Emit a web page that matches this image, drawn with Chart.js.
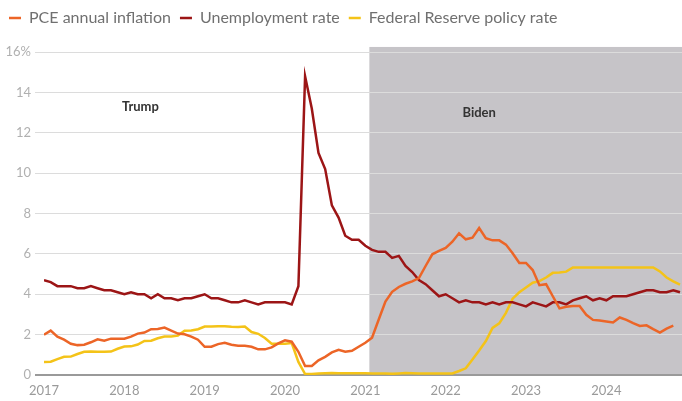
<!DOCTYPE html>
<html>
<head>
<meta charset="utf-8">
<script src="https://cdn.jsdelivr.net/npm/chart.js@4"></script>
<style>
  html, body { margin: 0; padding: 0; background: #ffffff; }
  #wrap { width: 682px; height: 401px; position: relative; }
</style>
</head>
<body>
<div id="wrap"><canvas id="chartRates"></canvas></div>
<script>
// Datos mensuales, ene 2017 - dic 2024 (indice 0 = ene 2017)
const yearLabels = ['2017', '2018', '2019', '2020', '2021', '2022', '2023', '2024'];
const yTickValues = [0, 2, 4, 6, 8, 10, 12, 14, 16];

const pceInflation = [
  2.0, 2.2, 1.9, 1.75, 1.55, 1.48, 1.5, 1.62, 1.77, 1.7, 1.8, 1.8,
  1.8, 1.9, 2.05, 2.1, 2.27, 2.28, 2.35, 2.2, 2.05, 2.02, 1.9, 1.75,
  1.4, 1.4, 1.53, 1.6, 1.5, 1.45, 1.45, 1.4, 1.27, 1.27, 1.37, 1.57,
  1.72, 1.65, 1.15, 0.45, 0.45, 0.73, 0.9, 1.12, 1.25, 1.15, 1.2, 1.4,
  1.6, 1.85, 2.75, 3.64, 4.12, 4.36, 4.52, 4.64, 4.8, 5.4, 5.98, 6.15,
  6.3, 6.6, 7.02, 6.72, 6.8, 7.28, 6.78, 6.67, 6.67, 6.46, 6.03, 5.55,
  5.55, 5.2, 4.45, 4.5, 3.9, 3.3, 3.38, 3.42, 3.42, 2.98, 2.73, 2.7,
  2.65, 2.6, 2.85, 2.73, 2.57, 2.43, 2.46, 2.27, 2.1, 2.3, 2.45
];

const unemploymentRate = [
  4.7, 4.6, 4.4, 4.4, 4.4, 4.3, 4.3, 4.4, 4.3, 4.2, 4.2, 4.1,
  4.0, 4.1, 4.0, 4.0, 3.8, 4.0, 3.8, 3.8, 3.7, 3.8, 3.8, 3.9,
  4.0, 3.8, 3.8, 3.7, 3.6, 3.6, 3.7, 3.6, 3.5, 3.6, 3.6, 3.6,
  3.6, 3.5, 4.4, 14.8, 13.2, 11.0, 10.2, 8.4, 7.8, 6.9, 6.7, 6.7,
  6.4, 6.2, 6.1, 6.1, 5.8, 5.9, 5.4, 5.1, 4.7, 4.5, 4.2, 3.9,
  4.0, 3.8, 3.6, 3.7, 3.6, 3.6, 3.5, 3.6, 3.5, 3.6, 3.6, 3.5,
  3.4, 3.6, 3.5, 3.4, 3.6, 3.6, 3.5, 3.7, 3.8, 3.9, 3.7, 3.8,
  3.7, 3.9, 3.9, 3.9, 4.0, 4.1, 4.2, 4.2, 4.1, 4.1, 4.2, 4.1
];

const fedFundsRate = [
  0.65, 0.66, 0.79, 0.90, 0.91, 1.04, 1.15, 1.16, 1.15, 1.15, 1.16, 1.30,
  1.41, 1.42, 1.51, 1.69, 1.70, 1.82, 1.91, 1.91, 1.95, 2.19, 2.20, 2.27,
  2.40, 2.40, 2.41, 2.42, 2.39, 2.38, 2.40, 2.13, 2.04, 1.83, 1.55, 1.55,
  1.55, 1.58, 0.65, 0.05, 0.05, 0.08, 0.09, 0.10, 0.09, 0.09, 0.09, 0.09,
  0.09, 0.08, 0.07, 0.07, 0.06, 0.08, 0.10, 0.09, 0.08, 0.08, 0.08, 0.08,
  0.08, 0.08, 0.20, 0.33, 0.77, 1.21, 1.68, 2.33, 2.56, 3.08, 3.78, 4.10,
  4.33, 4.57, 4.65, 4.83, 5.06, 5.08, 5.12, 5.33, 5.33, 5.33, 5.33, 5.33,
  5.33, 5.33, 5.33, 5.33, 5.33, 5.33, 5.33, 5.33, 5.13, 4.83, 4.64, 4.48
];

// Inicio del periodo Biden (20 ene 2021, en meses desde ene 2017)
const bidenStart = 48.6;
const eraLabels = [
  { text: 'Trump', x: 14.4, y: 13.3 },
  { text: 'Biden', x: 65, y: 13.0 }
];

const FONT = 'Lato, "Open Sans", sans-serif';

function toPoints(arr) {
  return arr.map((v, i) => ({ x: i, y: v }));
}

// Espacio extra bajo la leyenda
const legendSpacing = {
  id: 'legendSpacing',
  beforeInit(chart) {
    const originalFit = chart.legend.fit;
    chart.legend.fit = function fit() {
      originalFit.bind(chart.legend)();
      this.height += 16;
    };
  }
};

// Sombreado del periodo Biden + etiquetas
const eraPlugin = {
  id: 'eras',
  beforeDraw(chart) {
    const { ctx, scales } = chart;
    const x0 = scales.x.getPixelForValue(bidenStart);
    const yTop = scales.y.getPixelForValue(16.25);
    const yBottom = scales.y.getPixelForValue(0);
    ctx.save();
    ctx.fillStyle = '#c6c4c8';
    ctx.fillRect(x0, yTop, chart.width - x0, yBottom - yTop);
    ctx.restore();
  },
  afterDatasetsDraw(chart) {
    const { ctx, scales } = chart;
    ctx.save();
    ctx.font = 'bold 13px ' + FONT;
    ctx.fillStyle = '#333333';
    ctx.textAlign = 'center';
    ctx.textBaseline = 'middle';
    eraLabels.forEach(l => {
      ctx.fillText(l.text, scales.x.getPixelForValue(l.x), scales.y.getPixelForValue(l.y));
    });
    ctx.restore();
  }
};

const config = {
  type: 'line',
  data: {
    datasets: [
      {
        label: 'PCE annual inflation',
        data: toPoints(pceInflation),
        borderColor: '#ec6527',
        borderWidth: 2.5,
        pointRadius: 0,
        tension: 0
      },
      {
        label: 'Unemployment rate',
        data: toPoints(unemploymentRate),
        borderColor: '#9c1516',
        borderWidth: 2.5,
        pointRadius: 0,
        tension: 0
      },
      {
        label: 'Federal Reserve policy rate',
        data: toPoints(fedFundsRate),
        borderColor: '#f4c318',
        borderWidth: 2.5,
        pointRadius: 0,
        tension: 0
      }
    ]
  },
  options: {
    responsive: true,
    maintainAspectRatio: false,
    animation: false,
    layout: { padding: { top: 1, right: 0, left: 0, bottom: 0 } },
    plugins: {
      tooltip: { enabled: false },
      legend: {
        display: true,
        position: 'top',
        align: 'start',
        labels: {
          usePointStyle: true,
          pointStyle: 'line',
          pointStyleWidth: 12,
          padding: 9,
          color: '#707070',
          font: { family: FONT, size: 16 }
        }
      }
    },
    scales: {
      x: {
        type: 'linear',
        min: 0,
        max: 95.3,
        afterBuildTicks: scale => {
          scale.ticks = yearLabels.map((_, i) => ({ value: i * 12 }));
        },
        afterFit: scale => { scale.height = 26; },
        grid: { display: false, drawTicks: false },
        border: { display: true, color: '#9a9a9a', width: 2 },
        ticks: {
          color: '#9a9a9a',
          padding: 8,
          maxRotation: 0,
          font: { family: FONT, size: 13 },
          callback: value => yearLabels[value / 12]
        }
      },
      y: {
        min: 0,
        max: 16,
        afterBuildTicks: scale => {
          scale.ticks = yTickValues.map(v => ({ value: v }));
        },
        afterFit: scale => { scale.width = 44; },
        border: { display: false },
        grid: {
          color: ctx => ctx.tick && ctx.tick.value === 0 ? '#9a9a9a' : '#dcdcdc',
          lineWidth: ctx => ctx.tick && ctx.tick.value === 0 ? 2 : 1,
          drawTicks: true,
          tickLength: 9
        },
        ticks: {
          color: '#b0b0b0',
          padding: 4,
          font: { family: FONT, size: 13 },
          callback: value => value === 16 ? '16%' : String(value)
        }
      }
    }
  },
  plugins: [legendSpacing, eraPlugin]
};

const chartRates = new Chart(document.getElementById('chartRates').getContext('2d'), config);
</script>
</body>
</html>
